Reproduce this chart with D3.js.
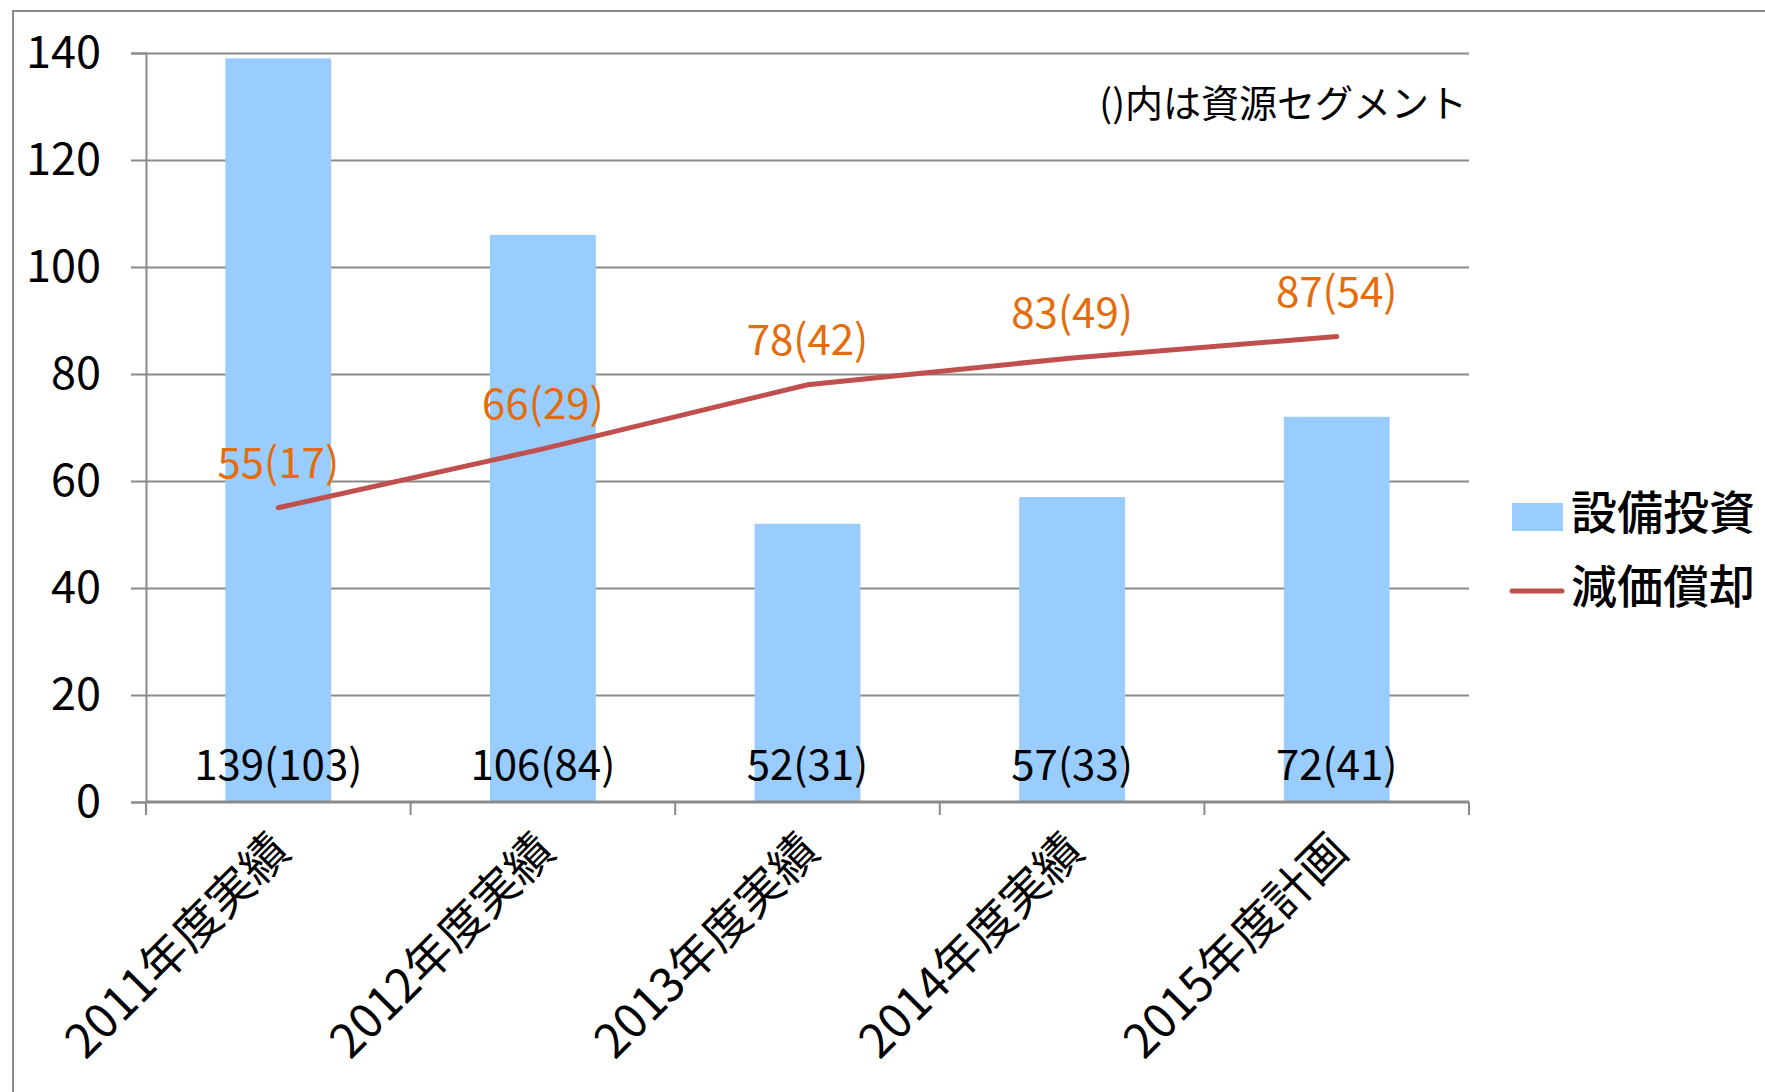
<!DOCTYPE html>
<html>
  <head>
    <meta charset="utf-8">
    <title>設備投資・減価償却</title>
    <script src="https://d3js.org/d3.v7.min.js"></script>
    <style>
      body { margin: 0; background: #fff; }
    </style>
  </head>
  <body>
    <div id="chart"></div>
    <script>
      // データ
      const categories = ["2011年度実績", "2012年度実績", "2013年度実績", "2014年度実績", "2015年度計画"];
      const capex = [139, 106, 52, 57, 72];           // 設備投資
      const capexResource = [103, 84, 31, 33, 41];    // ()内 資源セグメント
      const depreciation = [55, 66, 78, 83, 87];      // 減価償却
      const depResource = [17, 29, 42, 49, 54];
      const yTicks = [0, 20, 40, 60, 80, 100, 120, 140];
      const seriesNames = ["設備投資", "減価償却"];
      const note = "()内は資源セグメント";

      const width = 1765, height = 1092;
      const margin = {top: 53, right: 296, bottom: 290, left: 146};
      const numFont = "'Liberation Sans Narrow', 'Noto Sans CJK JP', sans-serif";
      const jpFont = "'Noto Sans CJK JP', sans-serif";

      const svg = d3.select("#chart")
                    .append("svg")
                    .attr("width", width)
                    .attr("height", height);

      // 外枠
      svg.append("rect")
         .attr("x", 13).attr("y", 11)
         .attr("width", width).attr("height", height)
         .attr("fill", "none")
         .attr("stroke", "#8a8a8a")
         .attr("stroke-width", 2);

      const xScale = d3.scaleBand()
                       .domain(categories)
                       .range([margin.left, width - margin.right])
                       .paddingInner(0.6)
                       .paddingOuter(0.3);
      const yScale = d3.scaleLinear()
                       .domain([0, 140])
                       .range([height - margin.bottom, margin.top]);
      const center = d => xScale(d) + xScale.bandwidth() / 2;

      // Y軸 + グリッド
      const yAxis = svg.append("g")
                       .attr("transform", `translate(${margin.left}, 0)`)
                       .call(d3.axisLeft(yScale).tickValues(yTicks).tickSize(15).tickPadding(30));
      yAxis.select(".domain").attr("stroke", "#8a8a8a").attr("stroke-width", 2);
      yAxis.selectAll(".tick line").attr("stroke", "#8a8a8a").attr("stroke-width", 2);
      yAxis.selectAll(".tick text")
           .attr("font-family", numFont)
           .attr("font-size", 45)
           .attr("fill", "#000");
      yAxis.selectAll(".tick")
           .filter(d => d !== 0)
           .append("line")
           .attr("x1", 0)
           .attr("x2", width - margin.left - margin.right)
           .attr("stroke", "#8a8a8a")
           .attr("stroke-width", 2);

      // 棒
      svg.selectAll("rect.bar")
         .data(categories)
         .join("rect")
         .attr("class", "bar")
         .attr("x", d => xScale(d))
         .attr("y", (d, i) => yScale(capex[i]))
         .attr("width", xScale.bandwidth())
         .attr("height", (d, i) => yScale(0) - yScale(capex[i]))
         .attr("fill", "#99ccff");

      // X軸
      const step = xScale.step();
      const boundaries = d3.range(categories.length + 1).map(i => margin.left + i * step);
      const xAxis = svg.append("g");
      xAxis.append("line")
           .attr("x1", margin.left).attr("x2", width - margin.right)
           .attr("y1", yScale(0)).attr("y2", yScale(0))
           .attr("stroke", "#8a8a8a").attr("stroke-width", 3);
      xAxis.selectAll("line.xtick")
           .data(boundaries)
           .join("line")
           .attr("class", "xtick")
           .attr("x1", d => d).attr("x2", d => d)
           .attr("y1", yScale(0)).attr("y2", yScale(0) + 13)
           .attr("stroke", "#8a8a8a").attr("stroke-width", 2);
      xAxis.selectAll("text")
           .data(categories)
           .join("text")
           .attr("transform", d => `translate(${center(d) + 14}, ${yScale(0) + 52}) rotate(-45)`)
           .attr("text-anchor", "end")
           .attr("font-family", numFont)
           .attr("font-size", 47)
           .attr("fill", "#000")
           .text(d => d);

      // 棒ラベル
      svg.selectAll("text.barLabel")
         .data(categories)
         .join("text")
         .attr("class", "barLabel")
         .attr("x", center)
         .attr("y", yScale(0) - 22)
         .attr("text-anchor", "middle")
         .attr("font-family", numFont)
         .attr("font-size", 42)
         .attr("fill", "#000")
         .text((d, i) => `${capex[i]}(${capexResource[i]})`);

      // 減価償却 線
      const line = d3.line()
                     .x((d, i) => center(categories[i]))
                     .y(d => yScale(d));
      svg.append("path")
         .datum(depreciation)
         .attr("d", line)
         .attr("fill", "none")
         .attr("stroke", "#c0504d")
         .attr("stroke-width", 5)
         .attr("stroke-linecap", "round");

      svg.selectAll("text.lineLabel")
         .data(categories)
         .join("text")
         .attr("class", "lineLabel")
         .attr("x", center)
         .attr("y", (d, i) => yScale(depreciation[i]) - 30)
         .attr("text-anchor", "middle")
         .attr("font-family", numFont)
         .attr("font-size", 42)
         .attr("fill", "#e46c0a")
         .text((d, i) => `${depreciation[i]}(${depResource[i]})`);

      // 注記
      svg.append("text")
         .attr("x", width - margin.right - 2)
         .attr("y", 117)
         .attr("text-anchor", "end")
         .attr("font-family", jpFont)
         .attr("font-size", 38)
         .attr("fill", "#000")
         .text(note);

      // 凡例
      const legend = svg.append("g");
      legend.append("rect")
            .attr("x", 1512).attr("y", 503)
            .attr("width", 51).attr("height", 28)
            .attr("fill", "#99ccff");
      legend.append("line")
            .attr("x1", 1512).attr("x2", 1562)
            .attr("y1", 591).attr("y2", 591)
            .attr("stroke", "#c0504d")
            .attr("stroke-width", 5)
            .attr("stroke-linecap", "round");
      legend.selectAll("text")
            .data(seriesNames)
            .join("text")
            .attr("x", 1571)
            .attr("y", (d, i) => 529 + i * 74)
            .attr("font-family", jpFont)
            .attr("font-size", 46)
            .attr("font-weight", 500)
            .attr("fill", "#000")
            .text(d => d);
    </script>
  </body>
</html>
